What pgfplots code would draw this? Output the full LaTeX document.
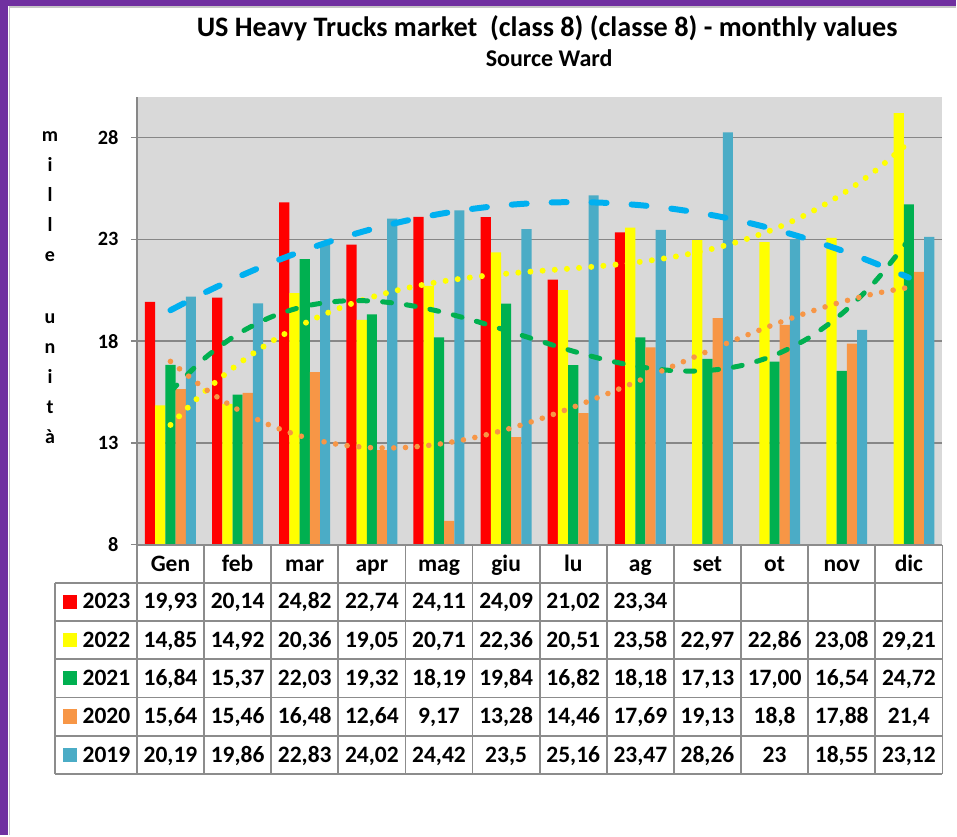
\documentclass[border=0pt]{standalone}
\usepackage{fontspec}
\setmainfont{Carlito}
\usepackage{pgfplots}
\pgfplotsset{compat=1.18}
\definecolor{cred}{HTML}{FF0000}
\definecolor{cyel}{HTML}{FFFF00}
\definecolor{cgrn}{HTML}{00B050}
\definecolor{corg}{HTML}{F79646}
\definecolor{cblu}{HTML}{4BACC6}
\definecolor{ctblu}{HTML}{00B0F0}
\definecolor{cbg}{HTML}{D9D9D9}
\definecolor{cgrid}{HTML}{878787}
\definecolor{cpurple}{HTML}{7030A0}
\definecolor{ctab}{HTML}{8C8C8C}
\begin{document}
\begin{tikzpicture}
\fill[white] (0,0) rectangle (957pt,-836pt);
\fill[cpurple] (0,0) rectangle (8.5pt,-836pt);
\fill[cpurple] (0,0) rectangle (957pt,-6pt);
\draw[gray!45, line width=1.2pt] (9.5pt,-836pt) -- (9.5pt,-7pt) -- (957pt,-7pt);
\node[anchor=base, font=\fontsize{28.2}{30}\selectfont\bfseries] at (547.5pt,-36.7pt) {US Heavy Trucks market\ \ (class 8) (classe 8) - monthly values};
\node[anchor=base, font=\fontsize{24}{26}\selectfont\bfseries] at (549.5pt,-66.7pt) {Source Ward};
\foreach \c/\y in {m/141.5, i/171.5, l/201.5, l/231.5, e/261.5, u/323.5, n/353.5, i/383.5, t/413.5, à/443.5}
  \node[anchor=base, font=\fontsize{20}{22}\selectfont\bfseries] at (50pt,-\y pt) {\c};
\begin{axis}[at={(137pt,-545pt)}, anchor=south west, width=806pt, height=448pt, scale only axis,
  xmin=0.5, xmax=12.5, ymin=8, ymax=30,
  axis background/.style={fill=cbg},
  axis y line=left, axis x line=bottom, axis line style={-, draw=cgrid, line width=1.5pt},
  xtick=\empty, ytick={8,13,18,23,28},
  ymajorgrids, grid style={cgrid, line width=1.6pt},
  tick align=outside, major tick length=6pt, ytick style={draw=cgrid, line width=1.5pt},
  /pgf/number format/assume math mode=true,
  yticklabel style={font=\fontsize{20.3}{22}\selectfont\bfseries, xshift=-9pt},
  clip=false]
\addplot[ybar, bar width=10.2pt, bar shift=-20.4pt, fill=cred, draw=none] coordinates {(1,19.93)(2,20.14)(3,24.82)(4,22.74)(5,24.11)(6,24.09)(7,21.02)(8,23.34)};
\addplot[ybar, bar width=10.2pt, bar shift=-10.2pt, fill=cyel, draw=none] coordinates {(1,14.85)(2,14.92)(3,20.36)(4,19.05)(5,20.71)(6,22.36)(7,20.51)(8,23.58)(9,22.97)(10,22.86)(11,23.08)(12,29.21)};
\addplot[ybar, bar width=10.2pt, bar shift=0pt, fill=cgrn, draw=none] coordinates {(1,16.84)(2,15.37)(3,22.03)(4,19.32)(5,18.19)(6,19.84)(7,16.82)(8,18.18)(9,17.13)(10,17.00)(11,16.54)(12,24.72)};
\addplot[ybar, bar width=10.2pt, bar shift=10.2pt, fill=corg, draw=none] coordinates {(1,15.64)(2,15.46)(3,16.48)(4,12.64)(5,9.17)(6,13.28)(7,14.46)(8,17.69)(9,19.13)(10,18.8)(11,17.88)(12,21.4)};
\addplot[ybar, bar width=10.2pt, bar shift=20.4pt, fill=cblu, draw=none] coordinates {(1,20.19)(2,19.86)(3,22.83)(4,24.02)(5,24.42)(6,23.5)(7,25.16)(8,23.47)(9,28.26)(10,23)(11,18.55)(12,23.12)};
% polynomial trend lines
\addplot[smooth, no marks, draw=ctblu, line width=6pt, line cap=round, dash pattern=on 15pt off 25pt] coordinates {(1,19.518)(1.5,20.368)(2,21.143)(2.5,21.845)(3,22.473)(3.5,23.026)(4,23.506)(4.5,23.912)(5,24.244)(5.5,24.501)(6,24.685)(6.5,24.795)(7,24.831)(7.5,24.793)(8,24.680)(8.5,24.494)(9,24.234)(9.5,23.900)(10,23.492)(10.5,23.010)(11,22.454)(11.5,21.824)(12,21.120)};
\addplot[smooth, no marks, draw=cyel, line width=6pt, line cap=round, dash pattern=on 0pt off 12.2pt] coordinates {(1,13.884)(1.5,15.498)(2,16.852)(2.5,17.971)(3,18.879)(3.5,19.602)(4,20.165)(4.5,20.593)(5,20.911)(5.5,21.143)(6,21.314)(6.5,21.451)(7,21.577)(7.5,21.718)(8,21.898)(8.5,22.143)(9,22.479)(9.5,22.928)(10,23.517)(10.5,24.271)(11,25.214)(11.5,26.372)(12,27.769)};
\addplot[smooth, no marks, draw=cgrn, line width=5pt, line cap=round, dash pattern=on 9pt off 15pt] coordinates {(1,15.523)(1.5,17.135)(2,18.343)(2.5,19.188)(3,19.713)(3.5,19.960)(4,19.974)(4.5,19.794)(5,19.466)(5.5,19.030)(6,18.529)(6.5,18.007)(7,17.505)(7.5,17.067)(8,16.734)(8.5,16.550)(9,16.556)(9.5,16.796)(10,17.312)(10.5,18.146)(11,19.342)(11.5,20.941)(12,22.986)};
\addplot[smooth, no marks, draw=corg, line width=5.6pt, line cap=round, dash pattern=on 0pt off 11.7pt] coordinates {(1,17.006)(1.5,15.690)(2,14.642)(2.5,13.845)(3,13.279)(3.5,12.925)(4,12.764)(4.5,12.775)(5,12.941)(5.5,13.241)(6,13.657)(6.5,14.169)(7,14.758)(7.5,15.404)(8,16.089)(8.5,16.793)(9,17.497)(9.5,18.182)(10,18.828)(10.5,19.416)(11,19.927)(11.5,20.341)(12,20.640)};
\end{axis}
% data table
\begin{scope}[line width=1.8pt]
\draw[ctab] (137pt,-545pt) -- (943pt,-545pt);
\foreach \y in {583,621.3,659.6,697.9,736.2,774.5}
  \draw[ctab] (55pt,-\y pt) -- (943pt,-\y pt);
\draw[ctab] (55pt,-583pt) -- (55pt,-774.5pt);
\foreach \k in {0,...,12}
  \draw[ctab] ({137pt+\k*67.1667pt},-545pt) -- ({137pt+\k*67.1667pt},-774.5pt);
\end{scope}
\foreach \m [count=\i] in {Gen,feb,mar,apr,mag,giu,lu,ag,set,ot,nov,dic}
  \node[anchor=base, font=\fontsize{23.5}{25}\selectfont\bfseries, inner sep=0pt] at ({137pt+(\i-0.5)*67.1667pt},-571.5pt) {\m};
\foreach \yr/\col/\r in {2023/cred/0, 2022/cyel/1, 2021/cgrn/2, 2020/corg/3, 2019/cblu/4} {
  \fill[\col] (62.7pt,{-595pt-\r*38.3pt}) rectangle (76.7pt,{-609.3pt-\r*38.3pt});
  \node[anchor=base west, font=\fontsize{23.5}{25}\selectfont\bfseries, inner sep=0pt] at (82.5pt,{-609.3pt-\r*38.3pt}) {\yr};
}
\newcommand\tabrow[2]{%
  \foreach \v [count=\i] in {#2}
    \node[anchor=base, font=\fontsize{23.5}{25}\selectfont\bfseries, inner sep=0pt] at ({137pt+(\i-0.5)*67.1667pt},{-609.3pt-#1*38.3pt}) {\v};}
\tabrow{0}{{19,93},{20,14},{24,82},{22,74},{24,11},{24,09},{21,02},{23,34}}
\tabrow{1}{{14,85},{14,92},{20,36},{19,05},{20,71},{22,36},{20,51},{23,58},{22,97},{22,86},{23,08},{29,21}}
\tabrow{2}{{16,84},{15,37},{22,03},{19,32},{18,19},{19,84},{16,82},{18,18},{17,13},{17,00},{16,54},{24,72}}
\tabrow{3}{{15,64},{15,46},{16,48},{12,64},{9,17},{13,28},{14,46},{17,69},{19,13},{18,8},{17,88},{21,4}}
\tabrow{4}{{20,19},{19,86},{22,83},{24,02},{24,42},{23,5},{25,16},{23,47},{28,26},{23},{18,55},{23,12}}
\end{tikzpicture}
\end{document}
